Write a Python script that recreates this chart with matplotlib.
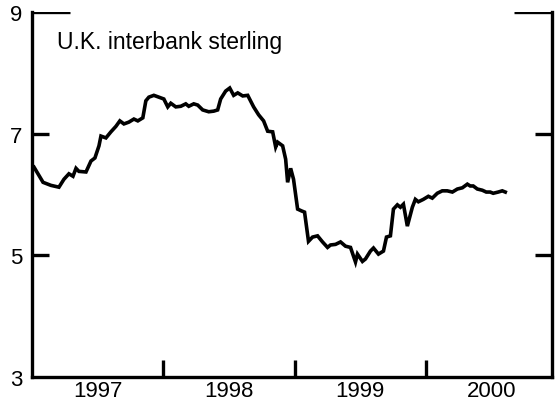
import matplotlib
matplotlib.use('Agg')
import matplotlib.pyplot as plt

plt.rcParams['font.family'] = ['Liberation Sans', 'DejaVu Sans']

# weekly-ish readings (decimal year, percent)
dates = [1997.015, 1997.084, 1997.144, 1997.205, 1997.243, 1997.281, 1997.312, 1997.335,
         1997.357, 1997.411, 1997.449, 1997.479, 1997.510, 1997.525, 1997.563, 1997.601,
         1997.639, 1997.669, 1997.700, 1997.738, 1997.776, 1997.806, 1997.844, 1997.867,
         1997.890, 1997.928, 1997.966, 1998.004, 1998.034, 1998.057, 1998.095, 1998.133,
         1998.171, 1998.194, 1998.232, 1998.262, 1998.300, 1998.346, 1998.384, 1998.414,
         1998.437, 1998.475, 1998.506, 1998.536, 1998.567, 1998.605, 1998.643, 1998.688,
         1998.726, 1998.764, 1998.795, 1998.833, 1998.856, 1998.871, 1998.909, 1998.932,
         1998.947, 1998.970, 1998.992, 1999.023, 1999.053, 1999.076, 1999.106, 1999.137,
         1999.175, 1999.213, 1999.251, 1999.274, 1999.312, 1999.350, 1999.388, 1999.426,
         1999.464, 1999.479, 1999.517, 1999.540, 1999.578, 1999.601, 1999.639, 1999.677,
         1999.700, 1999.730, 1999.753, 1999.783, 1999.806, 1999.829, 1999.859, 1999.897,
         1999.920, 1999.943, 1999.981, 2000.019, 2000.049, 2000.087, 2000.125, 2000.163,
         2000.202, 2000.240, 2000.278, 2000.316, 2000.338, 2000.361, 2000.392, 2000.430,
         2000.460, 2000.490, 2000.513, 2000.551, 2000.582, 2000.605]
rates = [6.45, 6.20, 6.15, 6.12, 6.25, 6.34, 6.30, 6.43,
         6.38, 6.37, 6.55, 6.60, 6.80, 6.96, 6.93, 7.03,
         7.12, 7.21, 7.16, 7.19, 7.24, 7.21, 7.26, 7.54,
         7.60, 7.63, 7.60, 7.57, 7.44, 7.50, 7.44, 7.45,
         7.49, 7.45, 7.49, 7.47, 7.39, 7.36, 7.37, 7.39,
         7.57, 7.70, 7.75, 7.63, 7.67, 7.62, 7.63, 7.44,
         7.31, 7.21, 7.04, 7.03, 6.78, 6.86, 6.80, 6.58,
         6.20, 6.43, 6.25, 5.76, 5.73, 5.71, 5.23, 5.30,
         5.32, 5.22, 5.13, 5.17, 5.18, 5.22, 5.15, 5.13,
         4.89, 5.02, 4.90, 4.94, 5.07, 5.12, 5.02, 5.07,
         5.30, 5.32, 5.76, 5.83, 5.79, 5.84, 5.48, 5.79,
         5.92, 5.88, 5.92, 5.97, 5.94, 6.02, 6.06, 6.06,
         6.04, 6.09, 6.11, 6.17, 6.14, 6.14, 6.09, 6.07,
         6.04, 6.04, 6.02, 6.04, 6.06, 6.04]

years = ['1997', '1998', '1999', '2000']
year_starts = [1998, 1999, 2000]
yticks = [3, 5, 7, 9]

fig = plt.figure(figsize=(5.56, 4.06), dpi=100)
ax = fig.add_axes([0.0576, 0.069, 0.935, 0.899])

ax.plot(dates, rates, color='black', linewidth=2.6, solid_joinstyle='miter')

ax.set_xlim(1997.0, 2000.96)
ax.set_ylim(3, 9)

# spines: top only as short stubs at 9
ax.spines['top'].set_visible(False)
for s in ['left', 'right', 'bottom']:
    ax.spines[s].set_linewidth(2.4)
ax.axhline(9, xmin=0, xmax=0.073, color='black', linewidth=2.4, solid_capstyle='butt')
ax.axhline(9, xmin=0.928, xmax=1, color='black', linewidth=2.4, solid_capstyle='butt')

ax.set_yticks(yticks)
ax.set_yticklabels([str(v) for v in yticks])
ax.tick_params(axis='y', which='major', direction='in', length=12, width=2.4,
               left=True, right=True, labelsize=16, pad=7)
# the 3 and 9 marks are covered by the spine and the stubs
for t in ax.yaxis.get_major_ticks():
    if t.get_loc() in (3, 9):
        t.tick1line.set_visible(False)
        t.tick2line.set_visible(False)

ax.set_xticks(year_starts)
ax.set_xticklabels([])
ax.set_xticks([y + 0.5 for y in range(1997, 2001)], minor=True)
ax.set_xticklabels(years, minor=True)
ax.tick_params(axis='x', which='major', direction='in', length=12.5, width=2.4)
ax.tick_params(axis='x', which='minor', length=0, labelsize=16, pad=2.5)

ax.text(0.048, 0.92, 'U.K. interbank sterling', transform=ax.transAxes,
        fontsize=16.5, ha='left', va='center')

fig.savefig('out.png', dpi=100)
